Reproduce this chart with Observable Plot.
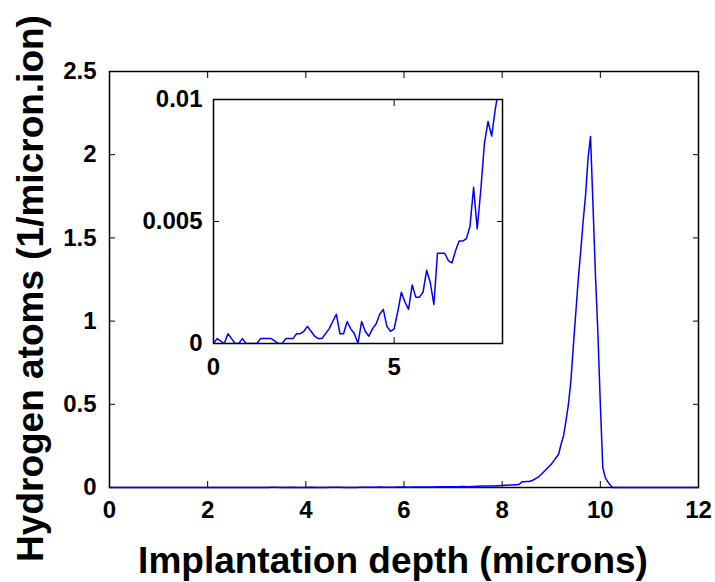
<!DOCTYPE html>
<html>
<head>
<meta charset="utf-8">
<script src="https://cdn.jsdelivr.net/npm/d3@7"></script>
<script src="https://cdn.jsdelivr.net/npm/@observablehq/plot@0.6"></script>
<style>
  body { margin: 0; background: #fff; }
  #chart { position: relative; width: 715px; height: 582px; }
  #chart svg { position: absolute; left: 0; top: 0; }
</style>
</head>
<body>
<div id="chart"></div>
<script>
// Depth (microns) and hydrogen atoms (1/micron.ion), shallow tail (shown in inset)
const lowDepth = [0,0.1,0.2,0.3,0.4,0.5,0.6,0.7,0.8,0.9,1.0,1.1,1.2,1.3,1.4,1.5,1.6,1.7,1.8,1.9,
  2.0,2.1,2.2,2.3,2.4,2.5,2.6,2.7,2.8,2.9,3.0,3.1,3.2,3.3,3.4,3.5,3.6,3.7,3.8,3.9,
  4.0,4.1,4.2,4.3,4.4,4.5,4.6,4.7,4.8,4.9,5.0,5.1,5.2,5.3,5.4,5.5,5.6,5.7,5.8,5.9,
  6.0,6.1,6.2,6.3,6.4,6.5,6.6,6.7,6.8,6.9,7.0,7.1,7.2,7.3,7.4,7.5,7.6,7.7,7.8,7.9];
const lowAtoms = [0,0.0002,0.0001,0,0.0004,0.0002,0,0,0.0002,0,0,0,0,0.0002,0.0002,0.0002,0.0002,0.0001,0,0,
  0.0002,0.0002,0.0002,0.0004,0.0004,0.0005,0.0007,0.0005,0.0003,0.0002,0.0002,0.0004,0.0006,0.0009,0.0012,0.0004,0.0004,0.0009,0.0006,0.0004,
  0,0.0009,0.0005,0.0003,0.0006,0.0008,0.0012,0.0014,0.0007,0.0005,0.0006,0.0013,0.0021,0.0017,0.0014,0.0024,0.0019,0.0019,0.0021,0.003,
  0.0025,0.0016,0.0037,0.0037,0.0037,0.0034,0.0033,0.0038,0.0042,0.0042,0.0043,0.0048,0.0064,0.0047,0.0063,0.0082,0.0091,0.0085,0.0096,0.0105];

// Depth (microns) and hydrogen atoms around the implantation peak
const peakDepth = [8.0,8.05,8.1,8.15,8.2,8.25,8.3,8.35,8.4,8.45,8.5,8.55,8.6,8.65,8.7,8.75,8.8,8.85,8.9,8.95,
  9.0,9.05,9.1,9.15,9.2,9.25,9.3,9.35,9.4,9.45,9.5,9.55,9.6,9.65,9.7,9.75,9.8,9.85,9.9,9.95,
  10.0,10.05,10.1,10.15,10.2,10.25,12];
const peakAtoms = [0.012,0.013,0.014,0.015,0.015,0.016,0.017,0.02,0.034,0.035,0.036,0.036,0.04,0.048,0.056,0.066,0.08,0.095,0.11,0.125,
  0.14,0.16,0.18,0.2,0.26,0.31,0.4,0.5,0.64,0.85,1.05,1.25,1.42,1.6,1.76,1.98,2.11,1.7,1.28,0.93,
  0.5,0.12,0.06,0.035,0.015,0,0];

const mainXTicks = [0,2,4,6,8,10,12];
const mainYTicks = [0,0.5,1,1.5,2,2.5];
const insetXTicks = [0,5];
const insetYTicks = [0,0.005,0.01];
const xLabel = "Implantation depth (microns)";
const yLabel = "Hydrogen atoms (1/micron.ion)";

const low = lowDepth.map((x, i) => ({x, y: lowAtoms[i]}));
const peak = peakDepth.map((x, i) => ({x, y: peakAtoms[i]}));
const all = low.concat(peak);
const insetData = all.filter(d => d.x <= 8);

const font = "'Liberation Sans', Arial, Helvetica, sans-serif";
const fmt = d => String(d);
const none = () => "";
const baseStyle = {fontFamily: font, fontWeight: "bold", fontSize: "24px", color: "black", background: "transparent", overflow: "visible"};

const main = Plot.plot({
  width: 715, height: 582,
  marginLeft: 109, marginRight: 17, marginTop: 71, marginBottom: 95,
  style: baseStyle,
  x: {domain: [0, 12]},
  y: {domain: [0, 2.5]},
  marks: [
    Plot.frame({stroke: "black", strokeWidth: 1.5}),
    Plot.axisX(mainXTicks, {anchor: "bottom", tickSize: 0, tickPadding: 13, tickFormat: fmt, label: null}),
    Plot.axisX(mainXTicks, {anchor: "bottom", tickSize: -6, tickFormat: none, label: null}),
    Plot.axisX(mainXTicks, {anchor: "top", tickSize: -6, tickFormat: none, label: null}),
    Plot.axisY(mainYTicks, {anchor: "left", tickSize: 0, tickPadding: 13, tickFormat: fmt, label: null}),
    Plot.axisY(mainYTicks, {anchor: "left", tickSize: -6, tickFormat: none, label: null}),
    Plot.axisY(mainYTicks, {anchor: "right", tickSize: -6, tickFormat: none, label: null}),
    Plot.line(all, {x: "x", y: "y", stroke: "#0000ff", strokeWidth: 1.5}),
    Plot.text([xLabel], {text: d => d, frameAnchor: "bottom", dy: 85, dx: -11, textAnchor: "middle", lineAnchor: "bottom", fontSize: 37, fontWeight: "bold"}),
    Plot.text([yLabel], {text: d => d, frameAnchor: "left", rotate: -90, dx: -67, dy: 9, textAnchor: "middle", lineAnchor: "bottom", fontSize: 37, fontWeight: "bold"})
  ]
});

const inset = Plot.plot({
  width: 715, height: 582,
  marginLeft: 213, marginRight: 213, marginTop: 99, marginBottom: 239,
  style: baseStyle,
  x: {domain: [0, 8]},
  y: {domain: [0, 0.01]},
  marks: [
    Plot.frame({fill: "white"}),
    Plot.axisX(insetXTicks, {anchor: "bottom", tickSize: 0, tickPadding: 14, tickFormat: fmt, label: null}),
    Plot.axisX(insetXTicks, {anchor: "bottom", tickSize: -6, tickFormat: none, label: null}),
    Plot.axisX(insetXTicks, {anchor: "top", tickSize: -6, tickFormat: none, label: null}),
    Plot.axisY(insetYTicks, {anchor: "left", tickSize: 0, tickPadding: 11, tickFormat: fmt, label: null}),
    Plot.axisY(insetYTicks, {anchor: "left", tickSize: -6, tickFormat: none, label: null}),
    Plot.axisY(insetYTicks, {anchor: "right", tickSize: -6, tickFormat: none, label: null}),
    Plot.line(insetData, {x: "x", y: "y", stroke: "#0000ff", strokeWidth: 1.5, clip: true}),
    Plot.frame({stroke: "black", strokeWidth: 1.5})
  ]
});

const chart = document.getElementById("chart");
chart.appendChild(main);
chart.appendChild(inset);
</script>
</body>
</html>
